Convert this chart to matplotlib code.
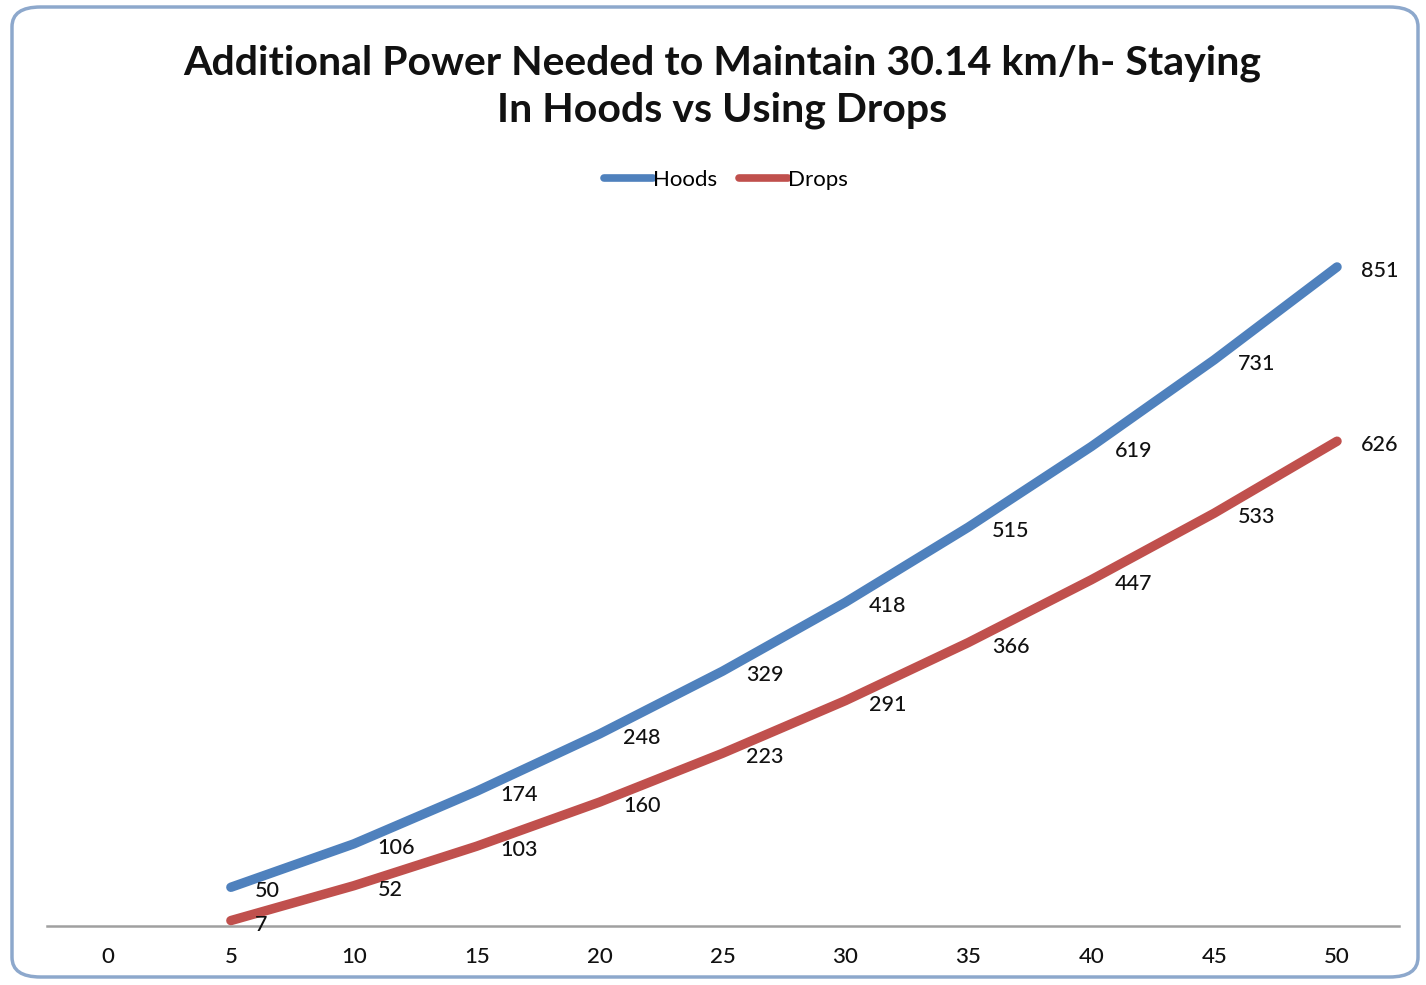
import matplotlib
matplotlib.use("Agg")
import matplotlib.pyplot as plt
from matplotlib.patches import FancyBboxPatch

categories = ["0", "5", "10", "15", "20", "25", "30", "35", "40", "45", "50"]
hoods = [None, 50, 106, 174, 248, 329, 418, 515, 619, 731, 851]
drops = [None, 7, 52, 103, 160, 223, 291, 366, 447, 533, 626]

title = "Additional Power Needed to Maintain 30.14 km/h- Staying\nIn Hoods vs Using Drops"
blue = "#4F81BD"
red = "#C0504D"

plt.rcParams['font.family'] = ['Lato', 'DejaVu Sans']

fig = plt.figure(figsize=(14.26, 9.85), dpi=100)
fig.patch.set_facecolor("white")

# chart border
border = FancyBboxPatch((12/1426, 8/985), 1406/1426, 970/985,
                        boxstyle="round,pad=0,rounding_size=0.02",
                        transform=fig.transFigure, facecolor="none",
                        edgecolor="#8DA8CC", linewidth=2.5, zorder=0)
fig.patches.append(border)

ax = fig.add_axes([46.5/1426, 59/985, 1352/1426, 697/985])
ax.set_facecolor("none")
ax.set_zorder(2)

x_idx = list(range(len(categories)))

def plot_series(vals, color, label):
    xs = [i for i, v in zip(x_idx, vals) if v is not None]
    ys = [v for v in vals if v is not None]
    ax.plot(xs, ys, color=color, linewidth=6.8, solid_capstyle="round",
            solid_joinstyle="round", label=label, zorder=3)
    for x, y in zip(xs, ys):
        ax.annotate(str(y), (x, y), xytext=(17, -3), textcoords="offset points",
                    ha="left", va="center", fontsize=15.5, color="#111111",
                    fontweight="medium", zorder=4)

plot_series(hoods, blue, "Hoods")
plot_series(drops, red, "Drops")

ax.set_xlim(-0.5, len(categories) - 0.5)
ax.set_ylim(0, 900)
ax.set_xticks(x_idx)
ax.set_xticklabels(categories, fontsize=16, color="#111111", fontweight="medium")
ax.set_yticks([])
ax.tick_params(axis="x", length=0, pad=15)
for s in ["top", "right", "left"]:
    ax.spines[s].set_visible(False)
ax.spines["bottom"].set_color("#A0A0A0")
ax.spines["bottom"].set_linewidth(1.8)

fig.text(722/1426, 1 - 87/985, title, ha="center", va="center",
         fontsize=29.5, fontweight="bold", color="#111111", linespacing=1.3)

leg = fig.legend(loc="center", bbox_to_anchor=(726/1426, 1 - 180/985),
                 ncol=2, frameon=False, fontsize=16, handlelength=2.2,
                 handletextpad=0.0, columnspacing=1.0)
for line in leg.get_lines():
    line.set_linewidth(5.5)

fig.savefig("out.png", dpi=100, facecolor="white")
